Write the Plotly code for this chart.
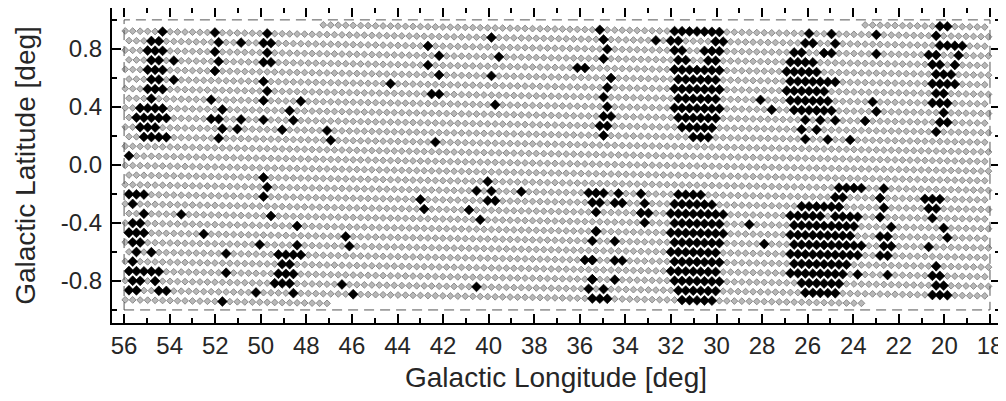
import plotly.graph_objects as go

# ---------------- observing grid (deg) ----------------
L_START = 55.95          # first grid column (left edge)
L_STOP = 18.05           # last grid column (right edge)
STEP_L = 0.328           # spacing of points along a row
ROW_TOP_B = 0.921        # latitude of top row at l = 55
ROW_STEP_B = 0.0662      # spacing between rows
ROW_TILT = 0.0028        # deg latitude per deg longitude (rows are slightly tilted)
B_MIN, B_MAX = -0.955, 0.966
ROW_INDICES = list(range(-3, 31))

# survey boundary (dashed box)
box_l = [56, 18]
box_b = [-1.0, 1.0]

# axis ticks
x_ticks = list(range(56, 17, -2))
y_ticks = [-0.8, -0.4, 0.0, 0.4, 0.8]
y_tick_text = ["-0.8", "-0.4", "0.0", "0.4", "0.8"]

# ---------------- detections: runs along grid rows (b, l_from, l_to) ----------------
north_l54 = [(0.917, 54.51, 54.11), (0.855, 54.73, 54.33), (0.779, 54.90, 54.29),
             (0.711, 54.77, 54.42), (0.711, 53.76, 53.76), (0.649, 54.99, 54.29),
             (0.581, 54.86, 54.51), (0.581, 53.85, 53.85), (0.519, 55.08, 54.33),
             (0.457, 54.95, 54.95), (0.395, 55.21, 54.29), (0.327, 55.38, 53.98),
             (0.265, 55.21, 54.55), (0.196, 55.17, 54.20)]
north_l52 = [(0.917, 52.09, 52.09), (0.855, 51.96, 51.96), (0.779, 51.87, 51.87),
             (0.711, 51.69, 51.69), (0.649, 51.91, 51.91), (0.855, 50.99, 50.99),
             (0.457, 52.22, 52.22), (0.395, 51.78, 51.78), (0.327, 52.22, 51.91),
             (0.265, 51.78, 51.78), (0.265, 51.12, 51.12), (0.327, 50.82, 50.82),
             (0.196, 51.87, 51.87)]
north_l50 = [(0.917, 49.72, 49.72), (0.855, 49.94, 49.59), (0.779, 49.80, 49.80),
             (0.711, 50.03, 49.67), (0.581, 49.72, 49.72), (0.519, 49.59, 49.59),
             (0.457, 49.80, 49.80), (0.457, 48.40, 48.40), (0.395, 48.62, 48.62),
             (0.327, 49.89, 49.89), (0.327, 48.49, 48.49), (0.265, 49.01, 49.01),
             (0.258, 46.95, 46.95), (0.196, 46.95, 46.95), (0.539, 44.31, 44.31)]
north_l41 = [(0.841, 42.51, 42.51), (0.773, 42.25, 42.25), (0.704, 42.51, 42.51),
             (0.649, 42.11, 42.11), (0.457, 42.56, 42.20), (0.190, 42.25, 42.25),
             (0.889, 39.83, 39.83), (0.718, 39.70, 39.70), (0.581, 39.79, 39.79),
             (0.388, 39.74, 39.74)]
north_l35 = [(0.923, 35.22, 35.22), (0.855, 35.09, 35.09), (0.786, 34.87, 34.87),
             (0.718, 34.91, 34.91), (0.663, 36.18, 35.88), (0.594, 34.56, 34.56),
             (0.526, 34.78, 34.78), (0.457, 34.96, 34.96), (0.388, 34.65, 34.65),
             (0.327, 34.96, 34.56), (0.265, 35.17, 34.78), (0.196, 34.87, 34.87),
             (0.869, 32.58, 32.58)]
north_l31 = [(0.923, 31.92, 29.81), (0.855, 31.92, 31.57), (0.855, 30.17, 29.81),
             (0.786, 31.79, 31.35), (0.786, 30.47, 29.99), (0.718, 31.79, 31.35),
             (0.718, 30.34, 29.99), (0.649, 31.79, 29.85), (0.581, 31.79, 29.85),
             (0.526, 31.92, 29.99), (0.457, 31.79, 29.99), (0.395, 31.79, 29.99),
             (0.327, 31.57, 30.03), (0.265, 31.44, 30.17), (0.196, 31.22, 30.47),
             (0.443, 27.97, 27.97), (0.388, 27.62, 27.62)]
north_l25 = [(0.903, 26.08, 26.08), (0.903, 24.98, 24.98), (0.841, 26.30, 25.86),
             (0.841, 24.98, 24.76), (0.786, 26.52, 26.08), (0.786, 25.42, 24.76),
             (0.718, 26.74, 25.64), (0.649, 26.87, 25.42), (0.581, 26.74, 24.76),
             (0.526, 26.96, 25.20), (0.457, 26.74, 25.20), (0.395, 26.52, 24.98),
             (0.327, 26.30, 26.08), (0.327, 25.42, 25.42), (0.327, 24.63, 24.63),
             (0.258, 26.30, 26.30), (0.258, 25.64, 25.64), (0.196, 26.08, 26.08),
             (0.196, 24.98, 24.98), (0.196, 24.10, 24.10), (0.889, 22.92, 22.92),
             (0.752, 22.92, 22.92), (0.423, 23.31, 23.31), (0.361, 23.13, 23.13),
             (0.292, 23.35, 23.35)]
north_l20 = [(0.958, 20.28, 19.93), (0.889, 20.50, 20.19), (0.821, 20.28, 19.31),
             (0.752, 20.59, 20.24), (0.752, 19.45, 19.45), (0.697, 20.46, 20.06),
             (0.697, 19.40, 19.40), (0.629, 20.28, 19.58), (0.560, 20.50, 19.45),
             (0.491, 20.37, 20.02), (0.423, 20.59, 19.84), (0.361, 20.06, 20.06),
             (0.292, 20.28, 19.93), (0.230, 20.20, 20.20)]
south_l54 = [(0.087, 55.87, 55.87), (-0.194, 55.82, 55.03), (-0.263, 55.65, 55.65),
             (-0.325, 55.30, 54.99), (-0.393, 55.52, 55.17), (-0.448, 55.74, 55.08),
             (-0.496, 55.95, 55.95), (-0.551, 55.52, 55.17), (-0.620, 55.39, 55.39),
             (-0.620, 54.73, 54.73), (-0.688, 55.60, 55.60), (-0.757, 55.74, 54.42),
             (-0.812, 55.65, 55.30), (-0.812, 54.64, 54.64), (-0.874, 55.82, 55.52),
             (-0.874, 54.51, 54.11)]
south_l50 = [(-0.448, 52.35, 52.35), (-0.325, 53.54, 53.54), (-0.620, 51.56, 51.56),
             (-0.757, 51.65, 51.65), (-0.922, 51.78, 51.78), (-0.551, 50.16, 50.16),
             (-0.874, 50.16, 50.16), (-0.092, 49.80, 49.80), (-0.160, 49.63, 49.63),
             (-0.242, 49.94, 49.94), (-0.325, 49.67, 49.67), (-0.421, 48.49, 48.49),
             (-0.551, 48.49, 48.49), (-0.620, 49.28, 48.18), (-0.688, 49.23, 48.84),
             (-0.757, 49.15, 48.40), (-0.812, 49.28, 48.57), (-0.874, 48.49, 48.49),
             (-0.524, 46.29, 46.29), (-0.592, 46.07, 46.07), (-0.805, 46.29, 46.29),
             (-0.867, 46.07, 46.07)]
south_l41 = [(-0.105, 40.10, 40.10), (-0.160, 40.62, 40.62), (-0.160, 39.96, 39.96),
             (-0.174, 38.60, 38.60), (-0.208, 42.86, 42.86), (-0.236, 40.14, 39.79),
             (-0.290, 42.77, 42.77), (-0.290, 40.71, 40.71), (-0.359, 40.53, 40.53),
             (-0.874, 40.45, 40.45)]
south_l35 = [(-0.208, 35.61, 34.96), (-0.222, 34.30, 34.30), (-0.277, 35.52, 35.17),
             (-0.277, 34.51, 34.21), (-0.345, 35.31, 35.31), (-0.428, 35.39, 35.39),
             (-0.483, 35.22, 35.22), (-0.551, 35.61, 35.61), (-0.551, 34.56, 34.56),
             (-0.633, 35.66, 35.31), (-0.633, 34.43, 34.43), (-0.688, 35.61, 35.61),
             (-0.688, 34.30, 34.30), (-0.757, 35.61, 35.61), (-0.791, 34.56, 34.56),
             (-0.812, 35.31, 35.31), (-0.860, 34.96, 34.96), (-0.874, 35.61, 35.61),
             (-0.922, 35.22, 34.87), (-0.949, 35.52, 35.52), (-0.188, 33.29, 33.29),
             (-0.256, 33.11, 33.11), (-0.318, 33.37, 33.02), (-0.386, 33.29, 33.29)]
south_l31 = [(-0.194, 31.75, 30.69), (-0.263, 31.92, 30.03), (-0.325, 32.05, 29.77),
             (-0.393, 32.05, 29.77), (-0.462, 32.05, 29.73), (-0.524, 32.05, 29.85),
             (-0.592, 32.05, 29.85), (-0.661, 32.05, 29.85), (-0.723, 31.92, 29.95),
             (-0.791, 31.92, 29.95), (-0.860, 31.79, 30.03), (-0.922, 31.70, 30.12),
             (-0.441, 28.45, 28.45), (-0.565, 27.75, 27.75)]
south_l25 = [(-0.140, 24.54, 23.75), (-0.208, 24.76, 24.32), (-0.263, 26.30, 25.64),
             (-0.263, 25.20, 24.54), (-0.325, 26.74, 25.42), (-0.325, 24.98, 23.88),
             (-0.393, 26.74, 23.88), (-0.462, 26.74, 25.20), (-0.462, 24.76, 24.10),
             (-0.524, 26.74, 23.75), (-0.592, 26.74, 23.97), (-0.661, 26.52, 24.32),
             (-0.633, 23.79, 23.79), (-0.723, 26.74, 24.54), (-0.791, 26.30, 24.54),
             (-0.771, 23.88, 23.88), (-0.860, 26.08, 24.76)]
south_l22 = [(-0.174, 22.56, 22.56), (-0.242, 22.87, 22.87), (-0.318, 22.60, 22.60),
             (-0.390, 22.80, 22.80), (-0.448, 22.48, 22.48), (-0.496, 22.87, 22.87),
             (-0.496, 22.39, 22.39), (-0.565, 22.78, 22.43), (-0.633, 22.78, 22.43),
             (-0.771, 22.52, 22.52)]
south_l20 = [(-0.236, 20.81, 20.10), (-0.304, 20.63, 20.24), (-0.373, 20.46, 20.46),
             (-0.435, 20.15, 20.15), (-0.496, 20.02, 20.02), (-0.565, 20.59, 20.59),
             (-0.702, 20.28, 20.28), (-0.771, 20.50, 20.19), (-0.839, 20.37, 20.02),
             (-0.908, 20.59, 19.88)]

detection_runs = (north_l54 + north_l52 + north_l50 + north_l41 + north_l35 +
                  north_l31 + north_l25 + north_l20 + south_l54 + south_l50 +
                  south_l41 + south_l35 + south_l31 + south_l25 + south_l22 +
                  south_l20)


def row_lat(k, l):
    return ROW_TOP_B - k * ROW_STEP_B + ROW_TILT * (l - 55.0)


def row_points(k):
    off = 0.5 * (k % 2)
    pts = []
    j = 0
    while True:
        l = L_START - (j + off) * STEP_L
        if l < L_STOP:
            break
        pts.append(l)
        j += 1
    return pts


# gray: all observed grid positions
grid_l, grid_b = [], []
for k in ROW_INDICES:
    for l in row_points(k):
        b = row_lat(k, l)
        if B_MIN <= b <= B_MAX:
            grid_l.append(l)
            grid_b.append(b)

# black: grid positions covered by the detection runs
det_l, det_b = [], []
TOL = 0.12
for (b, l1, l2) in detection_runs:
    hi, lo = max(l1, l2), min(l1, l2)
    mid = 0.5 * (hi + lo)
    k = round((ROW_TOP_B + ROW_TILT * (mid - 55.0) - b) / ROW_STEP_B)
    pts = row_points(k)
    sel = [l for l in pts if lo - TOL <= l <= hi + TOL]
    if not sel:
        sel = [min(pts, key=lambda v: abs(v - mid))]
    for l in sel:
        det_l.append(l)
        det_b.append(row_lat(k, l))

FONT = "Liberation Sans, Arial, Helvetica, sans-serif"
TXT = "#262626"

fig = go.Figure()
fig.add_trace(go.Scatter(
    x=grid_l, y=grid_b, mode="markers", hoverinfo="skip",
    marker=dict(symbol="diamond", size=5.2, color="#b8b8b8",
                line=dict(color="#8a8a8a", width=1)),
))
fig.add_trace(go.Scatter(
    x=det_l, y=det_b, mode="markers",
    marker=dict(symbol="diamond", size=7.6, color="black",
                line=dict(color="black", width=0.6)),
))

fig.add_shape(type="rect", xref="x", yref="y",
              x0=box_l[0], x1=box_l[1], y0=box_b[0], y1=box_b[1],
              line=dict(color="#555555", width=1, dash="10px,6px"), layer="above")

axis_common = dict(showgrid=False, zeroline=False, showline=True, linewidth=2,
                   linecolor="black", mirror="ticks", ticks="inside",
                   tickcolor="black", tickwidth=2, automargin=False,
                   tickfont=dict(family=FONT, size=24, color=TXT))

fig.update_xaxes(range=[56.53, 17.56], tickvals=x_ticks,
                 ticktext=[str(v) for v in x_ticks], ticklen=9,
                 minor=dict(dtick=1, tick0=0, ticklen=5, ticks="inside",
                            tickcolor="black", tickwidth=2),
                 title=dict(text="Galactic Longitude [deg]", standoff=10,
                            font=dict(family=FONT, size=28, color=TXT)),
                 ticklabelstandoff=0,
                 **axis_common)
fig.update_yaxes(range=[-1.09, 1.082], tickvals=y_ticks, ticktext=y_tick_text,
                 ticklen=9,
                 minor=dict(dtick=0.2, tick0=0, ticklen=5, ticks="inside",
                            tickcolor="black", tickwidth=2),
                 title=dict(text="Galactic Latitude [deg]", standoff=17,
                            font=dict(family=FONT, size=28, color=TXT)),
                 ticklabelstandoff=3,
                 **axis_common)

# the page adds an 8 px body margin, so the figure is sized to fit the window
fig.update_layout(width=998, height=385, showlegend=False,
                  plot_bgcolor="white", paper_bgcolor="white",
                  margin=dict(l=104, r=6, t=0, b=70))

fig.write_html("out.html")
